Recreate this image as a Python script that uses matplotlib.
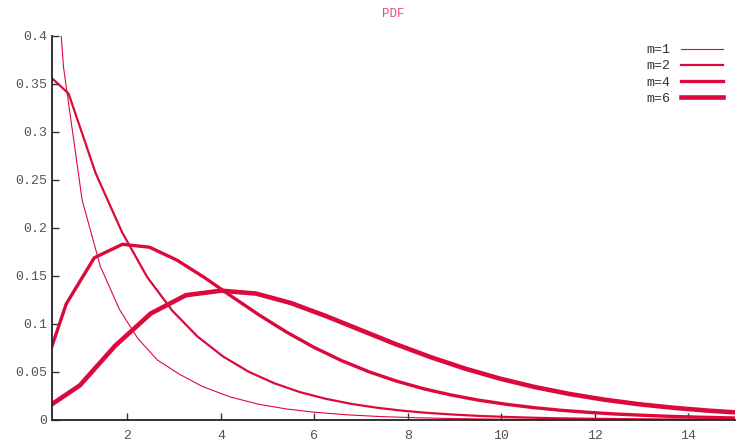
import matplotlib
matplotlib.use("Agg")
import matplotlib.pyplot as plt

# Werte
x_m1 = [0.45, 0.63, 1.03, 1.42, 1.83, 2.22, 2.64, 3.10, 3.60, 4.20, 4.80, 5.40,
        6.00, 6.70, 7.40, 8.20, 9.00, 10.0, 11.0, 12.0, 13.0, 14.0, 15.0]
y_m1 = [0.490, 0.368, 0.229, 0.160, 0.115, 0.085, 0.0625, 0.048, 0.035, 0.024,
        0.0165, 0.0115, 0.0081, 0.0054, 0.0036, 0.0023, 0.0015, 0.00085, 0.0005,
        0.0003, 0.0002, 0.0001, 0.0001]

x_m2 = [0.385, 0.74, 1.32, 1.88, 2.42, 2.96, 3.50, 4.05, 4.60, 5.15, 5.70, 6.25,
        6.80, 7.35, 7.90, 8.45, 9.00, 9.55, 10.1, 10.65, 11.2, 11.75, 12.3,
        12.85, 13.4, 13.95, 14.5, 15.05]
y_m2 = [0.356, 0.340, 0.257, 0.196, 0.149, 0.1138, 0.0869, 0.0660, 0.0501,
        0.0381, 0.0289, 0.0220, 0.0167, 0.0127, 0.0096, 0.0073, 0.0056, 0.0042,
        0.0032, 0.0024, 0.0018, 0.0014, 0.0011, 0.0008, 0.0006, 0.0005, 0.0004,
        0.0003]

x_m4 = [0.385, 0.69, 1.29, 1.89, 2.47, 3.06, 3.65, 4.23, 4.82, 5.41, 5.99, 6.58,
        7.17, 7.75, 8.34, 8.93, 9.51, 10.10, 10.69, 11.28, 11.86, 12.45, 13.04,
        13.62, 14.21, 14.80, 15.39]
y_m4 = [0.077, 0.121, 0.169, 0.183, 0.180, 0.1665, 0.1483, 0.1287, 0.1093,
        0.0914, 0.0757, 0.0619, 0.0502, 0.0406, 0.0325, 0.0260, 0.0207, 0.0164,
        0.0129, 0.0101, 0.0080, 0.0062, 0.0049, 0.0038, 0.0030, 0.0023, 0.0018]

x_m6 = [0.385, 0.98, 1.73, 2.50, 3.25, 4.00, 4.75, 5.50, 6.24, 6.99, 7.73, 8.48,
        9.22, 9.97, 10.71, 11.46, 12.20, 12.95, 13.69, 14.44, 15.18]
y_m6 = [0.0165, 0.036, 0.077, 0.111, 0.130, 0.1347, 0.1317, 0.1218, 0.1084,
        0.0937, 0.0792, 0.0656, 0.0536, 0.0431, 0.0344, 0.0271, 0.0212, 0.0164,
        0.0127, 0.0097, 0.0074]

labels = ['m=1', 'm=2', 'm=4', 'm=6']
x_ticks = [2, 4, 6, 8, 10, 12, 14]
y_ticks = [0, 0.05, 0.1, 0.15, 0.2, 0.25, 0.3, 0.35, 0.4]
y_ticklabels = ['0', '0.05', '0.1', '0.15', '0.2', '0.25', '0.3', '0.35', '0.4']

farbe = '#dc0a3c'
font = 'Liberation Mono'

fig = plt.figure(figsize=(7.36, 4.43), dpi=100)
ax = fig.add_axes([52 / 736, 1 - 420 / 443, 1 - 52 / 736 - 1 / 736, (420 - 36) / 443])

ax.plot(x_m1, y_m1, color=farbe, lw=0.8, label=labels[0])
ax.plot(x_m2, y_m2, color=farbe, lw=1.6, label=labels[1])
ax.plot(x_m4, y_m4, color=farbe, lw=2.4, label=labels[2])
ax.plot(x_m6, y_m6, color=farbe, lw=3.3, label=labels[3])

ax.set_xlim(0.385, 15.0)
ax.set_ylim(0, 0.4)
ax.set_xticks(x_ticks)
ax.set_yticks(y_ticks)
ax.set_yticklabels(y_ticklabels)

for s in ['top', 'right']:
    ax.spines[s].set_visible(False)
for s in ['left', 'bottom']:
    ax.spines[s].set_color('#222222')
    ax.spines[s].set_linewidth(1.3)

ax.tick_params(direction='in', length=5, width=1, color='#333333',
               labelcolor='#555555', labelsize=9.5)
ax.tick_params(axis='x', pad=7)
for lab in ax.get_xticklabels() + ax.get_yticklabels():
    lab.set_family(font)

ax.set_title('PDF', family=font, fontsize=9, color='#e0507a', pad=14)

leg = ax.legend(loc='upper right', bbox_to_anchor=(1.0, 1.01), frameon=False,
                markerfirst=False, handlelength=3.2, handletextpad=0.8,
                labelspacing=0.3, prop={'family': font, 'size': 9.5})
for t in leg.get_texts():
    t.set_color('#333333')

fig.savefig('out.png', dpi=100)
